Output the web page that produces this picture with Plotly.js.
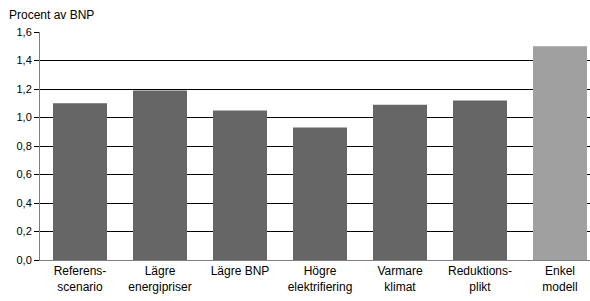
<!DOCTYPE html>
<html>
<head>
<meta charset="utf-8">
<script src="https://cdn.plot.ly/plotly-3.0.1.min.js"></script>
<style>html,body{margin:0;padding:0;background:#fff;}#chart{width:590px;height:301px;}</style>
</head>
<body>
<div id="chart"></div>
<script>
const categories = ["Referensscenario", "Lägre energipriser", "Lägre BNP", "Högre elektrifiering", "Varmare klimat", "Reduktionsplikt", "Enkel modell"];
const tickLabels = ["Referens-<br>scenario", "Lägre<br>energipriser", "Lägre BNP<br> ", "Högre<br>elektrifiering", "Varmare<br>klimat", "Reduktions-<br>plikt", "Enkel<br>modell"];
const values = [1.10, 1.19, 1.05, 0.93, 1.09, 1.12, 1.50];
const barColors = ["#666666", "#666666", "#666666", "#666666", "#666666", "#666666", "#a0a0a0"];
const yTicks = [0, 0.2, 0.4, 0.6, 0.8, 1.0, 1.2, 1.4, 1.6];

const trace = {
  type: "bar",
  x: categories,
  y: values,
  marker: {color: barColors, line: {width: 0}},
  hoverinfo: "none"
};

const layout = {
  width: 590,
  height: 301,
  margin: {l: 40, r: 0, t: 32, b: 41, pad: 0},
  paper_bgcolor: "#ffffff",
  plot_bgcolor: "#ffffff",
  separators: ", ",
  font: {family: "Liberation Sans, Arial, sans-serif", size: 12, color: "#000000"},
  bargap: 0.325,
  showlegend: false,
  title: {
    text: "Procent av BNP",
    xref: "container", yref: "container",
    x: 9 / 590, xanchor: "left",
    y: 1 - 15 / 301, yanchor: "middle",
    font: {family: "Liberation Sans, Arial, sans-serif", size: 12, color: "#000000"}
  },
  xaxis: {
    type: "category",
    range: [-0.5, 6.375],
    tickmode: "array",
    tickvals: categories,
    ticktext: tickLabels,
    showline: true,
    linecolor: "#808080",
    linewidth: 1,
    ticks: "",
    showgrid: false,
    zeroline: false,
    tickfont: {size: 12, color: "#000000"},
    fixedrange: true
  },
  yaxis: {
    range: [0, 1.6],
    tickmode: "array",
    tickvals: yTicks,
    tickformat: ".1f",
    showline: true,
    linecolor: "#808080",
    linewidth: 1,
    ticks: "outside",
    ticklen: 5,
    tickcolor: "#000000",
    tickwidth: 1,
    showgrid: true,
    gridcolor: "#000000",
    gridwidth: 1,
    zeroline: false,
    tickfont: {size: 11, color: "#000000"},
    fixedrange: true
  }
};

Plotly.newPlot("chart", [trace], layout, {displayModeBar: false, staticPlot: true});
</script>
</body>
</html>
